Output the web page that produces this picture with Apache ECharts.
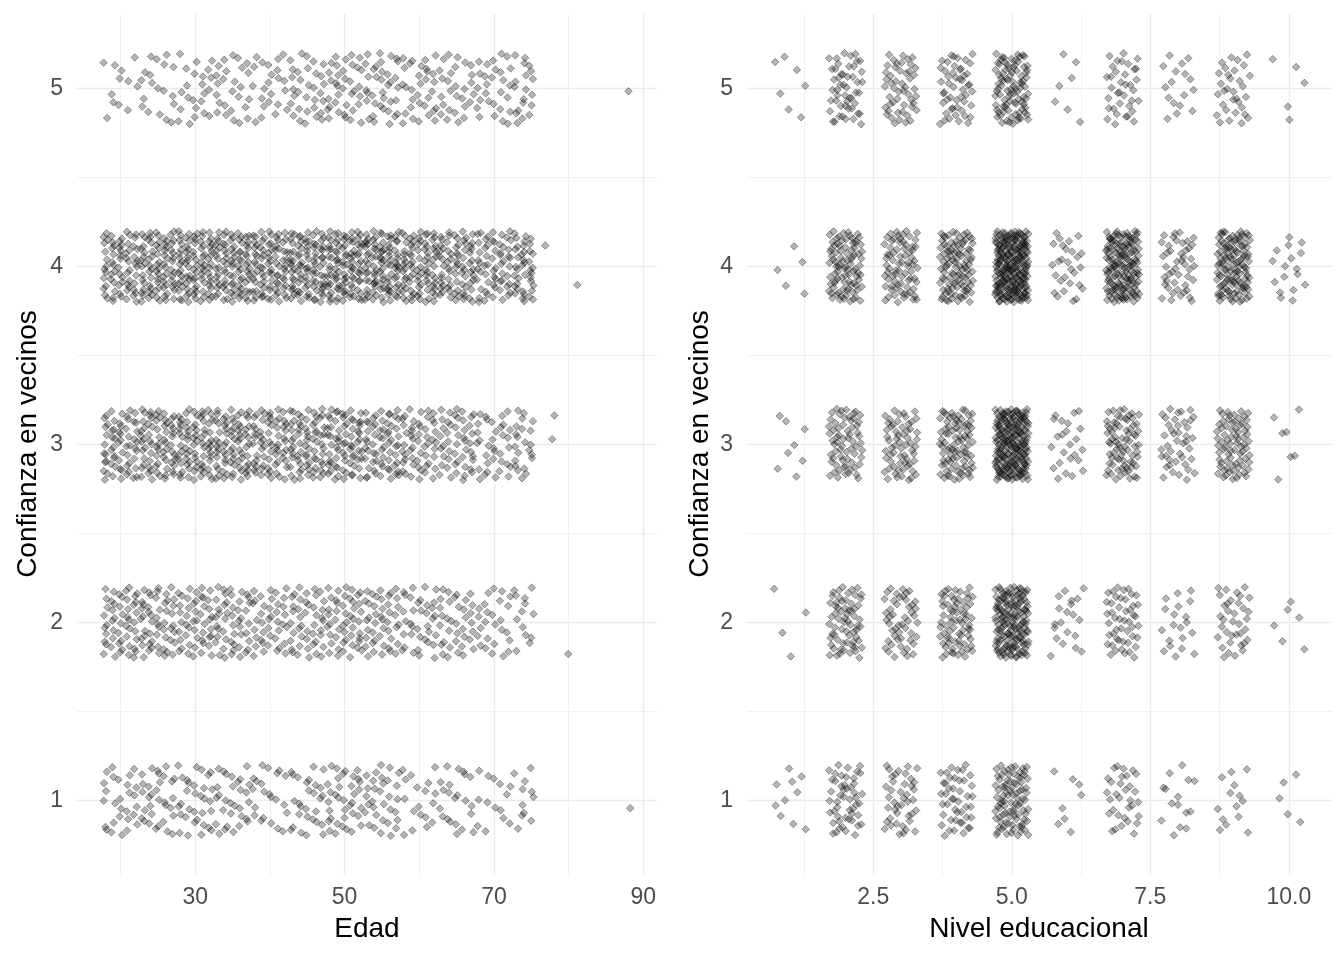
<!DOCTYPE html>
<html>
<head>
<meta charset="utf-8">
<script src="https://cdn.jsdelivr.net/npm/echarts@6/dist/echarts.min.js"></script>
<style>
  html, body { margin: 0; padding: 0; background: #fff; }
  #chart { width: 1344px; height: 960px; }
</style>
</head>
<body>
<div id="chart"></div>
<script>
// respuestas por nivel de confianza (1..5), contadas a ojo en la figura
var confLevels = [1, 2, 3, 4, 5];

// edad: tramos de edad y cantidad de casos por tramo
var ageBinFrom = [18, 23, 28, 33, 38, 43, 48, 53, 58, 63, 68, 73];
var ageBinTo   = [22, 27, 32, 37, 42, 47, 52, 57, 62, 67, 72, 75];
var ageCounts1 = [28, 32, 32, 30, 22, 28, 36, 32, 18, 22, 14, 11];
var ageCounts2 = [52, 52, 48, 48, 40, 44, 48, 44, 36, 36, 26, 13];
var ageCounts3 = [62, 70, 75, 75, 66, 70, 70, 62, 52, 48, 35, 22];
var ageCounts4 = [70, 82, 88, 88, 84, 92, 96, 96, 84, 74, 60, 40];
var ageCounts5 = [12, 19, 23, 26, 23, 32, 36, 36, 32, 28, 28, 19];
// casos sueltos [edad, confianza]
var ageExtra = [[88, 5], [77, 4], [81, 4], [78, 3], [78, 3], [80, 2], [88, 1]];

// nivel educacional 1..10
var eduLevels = [1, 2, 3, 4, 5, 6, 7, 8, 9, 10];
var eduCounts1 = [10, 50, 42, 45, 90, 8, 32, 15, 14, 5];
var eduCounts2 = [4, 65, 50, 70, 150, 20, 48, 20, 36, 6];
var eduCounts3 = [8, 65, 62, 85, 200, 24, 75, 42, 75, 7];
var eduCounts4 = [5, 90, 75, 100, 220, 28, 150, 46, 120, 17];
var eduCounts5 = [7, 50, 50, 50, 90, 7, 36, 17, 32, 5];

var ageTicks = [30, 50, 70, 90];
var ageMinor = [20, 40, 60, 80];
var eduTicks = [2.5, 5, 7.5, 10];
var eduMinor = [1.25, 3.75, 6.25, 8.75];
var confTicks = [1, 2, 3, 4, 5];
var confMinor = [1.5, 2.5, 3.5, 4.5];

// jitter determinista (secuencia de Halton) en vez de aleatorio
function halton(i, b) {
  var f = 1, r = 0;
  while (i > 0) {
    f = f / b;
    r = r + f * (i % b);
    i = Math.floor(i / b);
  }
  return r;
}
var seq = 17;
function nextUVW() {
  seq++;
  return [halton(seq, 5), halton(seq, 2), halton(seq, 3)];
}

var jitterW = 0.3;
var jitterH = 0.2;

function buildAgePoints() {
  var pts = [];
  var byConf = [ageCounts1, ageCounts2, ageCounts3, ageCounts4, ageCounts5];
  byConf.forEach(function(counts, ci) {
    counts.forEach(function(n, bi) {
      var span = ageBinTo[bi] - ageBinFrom[bi] + 1;
      for (var i = 0; i < n; i++) {
        var r = nextUVW();
        var age = ageBinFrom[bi] + Math.min(span - 1, Math.floor(r[0] * span));
        pts.push([age + (r[1] - 0.5) * 2 * jitterW, confLevels[ci] + (r[2] - 0.5) * 2 * jitterH]);
      }
    });
  });
  ageExtra.forEach(function(p) {
    var r = nextUVW();
    pts.push([p[0] + (r[1] - 0.5) * 2 * jitterW, p[1] + (r[2] - 0.5) * 2 * jitterH]);
  });
  return pts;
}

function buildEduPoints() {
  var pts = [];
  var byConf = [eduCounts1, eduCounts2, eduCounts3, eduCounts4, eduCounts5];
  byConf.forEach(function(counts, ci) {
    counts.forEach(function(n, ei) {
      for (var i = 0; i < n; i++) {
        var r = nextUVW();
        pts.push([eduLevels[ei] + (r[1] - 0.5) * 2 * jitterW, confLevels[ci] + (r[2] - 0.5) * 2 * jitterH]);
      }
    });
  });
  return pts;
}

var FONT = 'Liberation Sans, Arial, sans-serif';
var GRID_COL = '#ebebeb';

function xAxisPair(gridIndex, min, max, ticks, minor, fmt) {
  return [
    {
      type: 'value', gridIndex: gridIndex, min: min, max: max,
      axisLine: { show: false },
      axisTick: { show: false, customValues: ticks },
      axisLabel: {
        customValues: ticks, color: '#4d4d4d', fontSize: 23, fontFamily: FONT, margin: 11,
        formatter: fmt
      },
      splitLine: { show: true, lineStyle: { color: GRID_COL, width: 1.4 } }
    },
    {
      type: 'value', gridIndex: gridIndex, min: min, max: max,
      axisLine: { show: false },
      axisTick: { show: false, customValues: minor },
      axisLabel: { show: false },
      splitLine: { show: true, lineStyle: { color: GRID_COL, width: 0.7 } }
    }
  ];
}

function yAxisPair(gridIndex) {
  return [
    {
      type: 'value', gridIndex: gridIndex, min: 0.58, max: 5.42,
      axisLine: { show: false },
      axisTick: { show: false, customValues: confTicks },
      axisLabel: { customValues: confTicks, color: '#4d4d4d', fontSize: 23, fontFamily: FONT, margin: 14 },
      splitLine: { show: true, lineStyle: { color: GRID_COL, width: 1.4 } }
    },
    {
      type: 'value', gridIndex: gridIndex, min: 0.58, max: 5.42,
      axisLine: { show: false },
      axisTick: { show: false, customValues: confMinor },
      axisLabel: { show: false },
      splitLine: { show: true, lineStyle: { color: GRID_COL, width: 0.7 } }
    }
  ];
}

var pointStyle = {
  color: 'rgba(0,0,0,0.36)',
  borderColor: 'rgba(0,0,0,0.55)',
  borderWidth: 0.8
};

var chart = echarts.init(document.getElementById('chart'));
var option = {
  backgroundColor: '#fff',
  animation: false,
  grid: [
    { left: 77, right: 687, top: 14, bottom: 85 },
    { left: 747, right: 12, top: 14, bottom: 85 }
  ],
  xAxis: []
    .concat(xAxisPair(0, 14.17, 91.83, ageTicks, ageMinor, function(v) { return String(v); }))
    .concat(xAxisPair(1, 0.22, 10.78, eduTicks, eduMinor, function(v) { return v.toFixed(1); })),
  yAxis: [].concat(yAxisPair(0)).concat(yAxisPair(1)),
  series: [
    {
      type: 'scatter', xAxisIndex: 0, yAxisIndex: 0,
      symbol: 'diamond', symbolSize: 7.5, silent: true,
      itemStyle: pointStyle, data: buildAgePoints()
    },
    {
      type: 'scatter', xAxisIndex: 2, yAxisIndex: 2,
      symbol: 'diamond', symbolSize: 7.5, silent: true,
      itemStyle: pointStyle, data: buildEduPoints()
    }
  ],
  graphic: [
    { type: 'text', x: 367, y: 929, style: { text: 'Edad', font: '28px ' + FONT, fill: '#000', align: 'center', verticalAlign: 'middle' } },
    { type: 'text', x: 1039, y: 929, style: { text: 'Nivel educacional', font: '28px ' + FONT, fill: '#000', align: 'center', verticalAlign: 'middle' } },
    { type: 'text', x: 28, y: 444, rotation: Math.PI / 2, style: { text: 'Confianza en vecinos', font: '28px ' + FONT, fill: '#000', align: 'center', verticalAlign: 'middle' } },
    { type: 'text', x: 700, y: 444, rotation: Math.PI / 2, style: { text: 'Confianza en vecinos', font: '28px ' + FONT, fill: '#000', align: 'center', verticalAlign: 'middle' } }
  ]
};
chart.setOption(option);
</script>
</body>
</html>
